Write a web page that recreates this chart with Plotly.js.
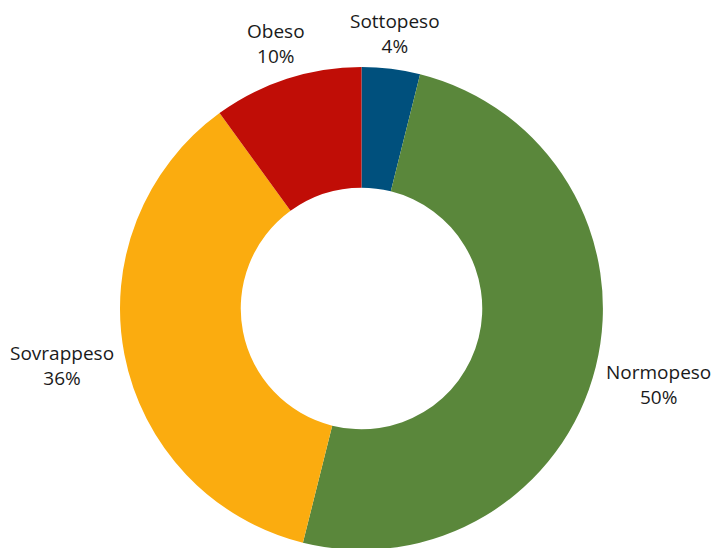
<!DOCTYPE html>
<html>
<head>
<meta charset="utf-8">
<script src="https://cdn.plot.ly/plotly-3.0.1.min.js"></script>
<style>
html,body{margin:0;padding:0;overflow:hidden;background:#fff;}
#chart{width:713px;height:560px;}
</style>
</head>
<body>
<div id="chart"></div>
<script>
const categories = ["Sottopeso", "Normopeso", "Sovrappeso", "Obeso"];
const values = [3.9, 50.0, 36.1, 10.0];
const colors = ["#00507d", "#5a873b", "#fbac0f", "#c00d06"];
// label anchor positions in pixels (centre of text block)
const labelPx = [[395, 34], [658, 384], [62, 365], [276, 44]];

const W = 713, H = 560;
const m = {l: 120, r: 110, t: 67, b: 10};
const pw = W - m.l - m.r, ph = H - m.t - m.b;

const annotations = categories.map((c, i) => ({
  text: c + "<br>" + Math.round(values[i]) + "%",
  xref: "paper", yref: "paper",
  x: (labelPx[i][0] - m.l) / pw,
  y: (H - m.b - labelPx[i][1]) / ph,
  xanchor: "center", yanchor: "middle",
  showarrow: false,
  font: {family: "Open Sans, Noto Sans, sans-serif", size: 19, color: "#1a1a1a"}
}));

Plotly.newPlot("chart", [{
  type: "pie",
  labels: categories,
  values: values,
  hole: 0.5,
  sort: false,
  direction: "clockwise",
  rotation: 0,
  textinfo: "none",
  hoverinfo: "label+percent",
  marker: {colors: colors, line: {width: 0}},
  showlegend: false
}], {
  width: W, height: H,
  margin: m,
  paper_bgcolor: "#fff",
  plot_bgcolor: "#fff",
  showlegend: false,
  annotations: annotations
}, {displayModeBar: false, staticPlot: true});
</script>
</body>
</html>
